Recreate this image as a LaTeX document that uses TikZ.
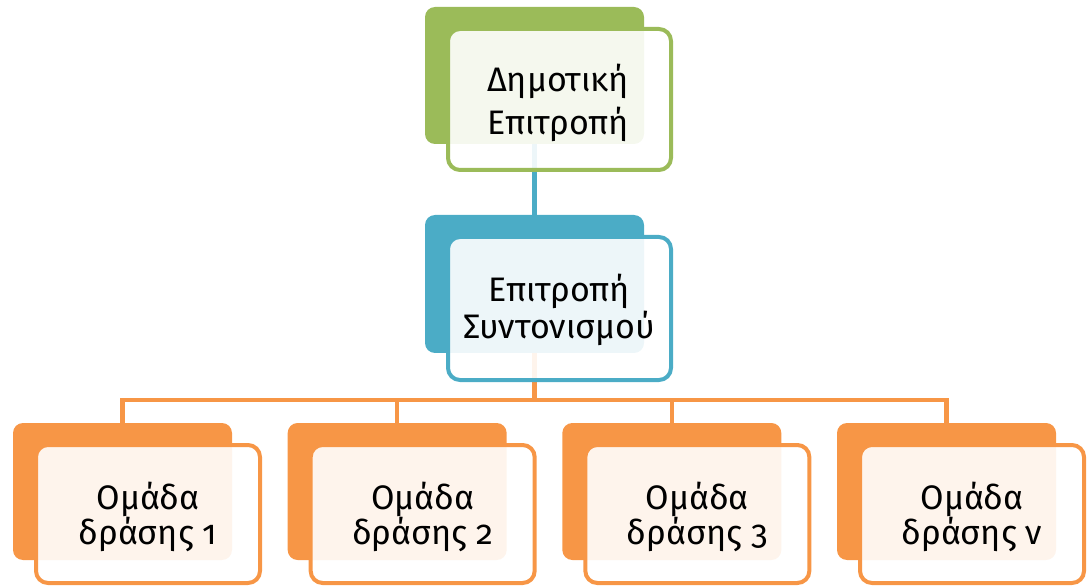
\documentclass[tikz,border=0pt]{standalone}
\usepackage{fontspec}
\setmainfont{Fira Sans}[Numbers=OldStyle]
\definecolor{ogreen}{HTML}{9BBB59}
\definecolor{oblue}{HTML}{4BACC6}
\definecolor{oorange}{HTML}{F79646}
\tikzset{
  backbox/.style={fill=#1, draw=none, rounded corners=10pt, minimum width=219pt, minimum height=137pt, inner sep=0pt},
  frontbox/.style={draw=#1, line width=4pt, fill=white, fill opacity=0.9, rounded corners=12pt, minimum width=223pt, minimum height=141pt, inner sep=0pt},
  conn/.style={line width=4.5pt, draw=#1},
  lbl/.style={align=center, font=\fontsize{34}{#1}\selectfont, text=black, inner sep=0pt},
}
\begin{document}
\begin{tikzpicture}[x=1pt,y=-1pt]
\useasboundingbox (0,0) rectangle (1088,588);
% back boxes
\node[backbox=ogreen] (topback) at (534.5,75.5) {};
\node[backbox=oblue, minimum height=138pt] (midback) at (534.5,284) {};
\foreach \i in {0,1,2,3}{
  \node[backbox=oorange] (b\i) at ({122.5+274.67*\i},491.5) {};
}
% connectors
\coordinate (bus) at (0,400);
\draw[conn=oblue] (topback.south) -- (midback.north);
\foreach \i in {0,1,2,3}{
  \draw[conn=oorange] (midback.south) -- (midback.south |- bus) -| (b\i.north);
}
% front boxes
\node[frontbox=ogreen] (topfront) at (559.5,99.5) {};
\node[frontbox=oblue, minimum height=143pt] (midfront) at (559.5,308.5) {};
\foreach \i in {0,1,2,3}{
  \node[frontbox=oorange, minimum width=224pt, minimum height=138pt] (f\i) at ({148+274.67*\i},514) {};
}
% labels
\node[lbl=43] (toptext) at (558,103) {Δημοτική\\Επιτροπή};
\node[lbl=37] (midtext) at (559,310) {Επιτροπή\\Συντονισμού};
\node[lbl=35] (t0) at (148,517) {Ομάδα\\δράσης 1};
\node[lbl=35] (t1) at ({148+274.67},517) {Ομάδα\\δράσης 2};
\node[lbl=35] (t2) at ({148+274.67*2},517) {Ομάδα\\δράσης 3};
\node[lbl=35] (t3) at ({148+274.67*3},517) {Ομάδα\\δράσης ν};
\end{tikzpicture}
\end{document}
